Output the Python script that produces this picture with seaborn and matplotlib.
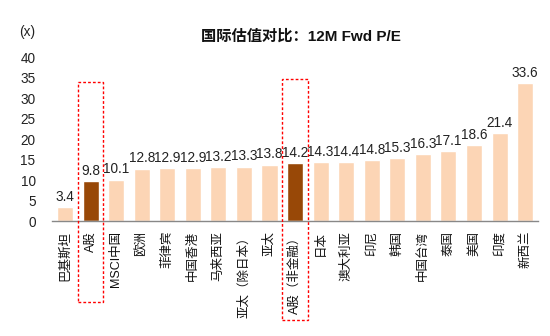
import matplotlib
matplotlib.use("Agg")
import matplotlib.pyplot as plt
import seaborn as sns
import pandas as pd
from matplotlib.patches import Rectangle

categories = ["巴基斯坦", "A股", "MSCI中国", "欧洲", "菲律宾", "中国香港", "马来西亚",
              "亚太（除日本）", "亚太", "A股（非金融）", "日本", "澳大利亚", "印尼", "韩国",
              "中国台湾", "泰国", "美国", "印度", "新西兰"]
values = [3.4, 9.8, 10.1, 12.8, 12.9, 12.9, 13.2, 13.3, 13.8, 14.2, 14.3, 14.4, 14.8,
          15.3, 16.3, 17.1, 18.6, 21.4, 33.6]
highlight = ["A股", "A股（非金融）"]
yticks = [0, 5, 10, 15, 20, 25, 30, 35, 40]

sns.set_theme(style="white")
plt.rcParams['font.family'] = ['Liberation Sans', 'Noto Sans CJK SC', 'DejaVu Sans']

light = "#FCD5B5"
dark = "#984807"
df = pd.DataFrame({"cat": categories, "val": values,
                   "grp": ["hl" if c in highlight else "base" for c in categories]})

fig = plt.figure(figsize=(5.5, 3.36), dpi=100)
ax = fig.add_axes([0.095, 0.342, 0.883, 0.488])
sns.barplot(data=df, x="cat", y="val", hue="grp", palette={"hl": dark, "base": light},
            dodge=False, width=0.63, legend=False, ax=ax, saturation=1)

for i, v in enumerate(values):
    ax.text(i, v + 0.8, f"{v:.1f}", ha="center", va="bottom", fontsize=9.8, color="#222222")

ax.set_ylim(0, 40)
ax.set_xlim(-0.5, len(categories) - 0.5)
ax.set_yticks(yticks)
ax.set_yticklabels([str(t) for t in yticks], fontsize=9.8, color="#222222")
ax.set_xticks(range(len(categories)))
ax.set_xticklabels(categories, rotation=90, fontsize=9, color="#111111",
                   va="top", ha="center", fontweight="medium")
ax.tick_params(axis="x", length=0, pad=7)
ax.tick_params(axis="y", length=0, pad=12)
ax.set_xlabel("")
ax.set_ylabel("")
for s in ["top", "right", "left"]:
    ax.spines[s].set_visible(False)
ax.spines["bottom"].set_color("#888888")
ax.spines["bottom"].set_linewidth(1)
ax.set_xticks([i - 0.5 for i in range(len(categories) + 1)], minor=True)
ax.tick_params(axis="x", which="minor", length=4, color="#888888", direction="out")

boxes = [(1, 33.9, -19.7), (9, 34.6, -24.1)]
for idx, top, bot in boxes:
    rect = Rectangle((idx - 0.5, bot), 1.0, top - bot, fill=False, edgecolor="#FF0000",
                     linestyle=(0, (2, 1.5)), linewidth=1.0, clip_on=False, zorder=5)
    ax.add_patch(rect)

fig.text(0.547, 0.89, "国际估值对比：12M Fwd P/E", ha="center", va="center",
         fontsize=11, fontweight="bold", color="#111111")
fig.text(0.05, 0.905, "(x)", ha="center", va="center", fontsize=9.8, color="#222222")

fig.savefig("out.png", dpi=100)
